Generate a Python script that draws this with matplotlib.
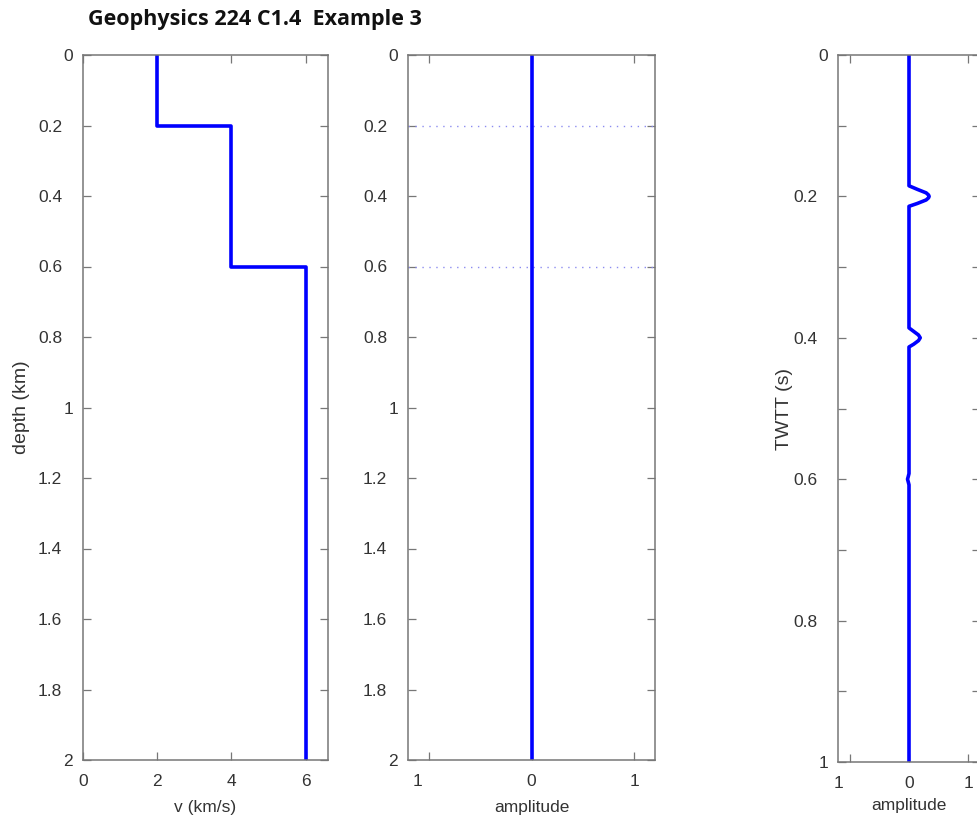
"""Geophysics 224 C1.4 Example 3: velocity model, reflectivity, synthetic trace."""

import matplotlib
matplotlib.use("Agg")
import matplotlib.pyplot as plt  # noqa: E402
import matplotlib.transforms as mtransforms  # noqa: E402
from matplotlib.ticker import FixedLocator, FixedFormatter, MultipleLocator  # noqa: E402

plt.rcParams["font.family"] = ["Liberation Sans", "DejaVu Sans"]

# 속도 모델 (depth km, v km/s)
model_depth = [0.0, 0.2, 0.2, 0.6, 0.6, 2.0]
model_vel = [2.0, 2.0, 4.0, 4.0, 6.0, 6.0]

# 깊이 영역의 진폭 (0선)과 경계면
amp_depth = [0.0, 2.0]
amp_depth_val = [0.0, 0.0]
interfaces = [0.2, 0.6]

# 합성 트레이스 (TWTT s, amplitude) - 그림에서 읽은 값
trace_t = [0.0, 0.185, 0.190, 0.195, 0.198, 0.200, 0.202, 0.205, 0.210, 0.214,
           0.386, 0.391, 0.396, 0.400, 0.404, 0.409, 0.413,
           0.592, 0.597, 0.600, 0.603, 0.608, 1.0]
trace_a = [0.0, 0.0, 0.14, 0.29, 0.33, 0.34, 0.33, 0.29, 0.14, 0.0,
           0.0, 0.08, 0.16, 0.19, 0.16, 0.08, 0.0,
           0.0, -0.015, -0.025, -0.015, 0.0, 0.0]

amp_ticks = [-1, 0, 1]
amp_ticklabels = ["1", "0", "1"]

BLUE = "#0000ff"
GREY = "#777777"
TEXT = "#333333"
FS = 12.5
LFS = 14


def style_axes(ax):
    for s in ax.spines.values():
        s.set_color(GREY)
        s.set_linewidth(1.1)
    ax.tick_params(direction="in", top=True, right=True, length=5.5,
                   width=0.9, color=GREY, labelcolor=TEXT, labelsize=FS)
    ax.tick_params(axis="x", pad=10)
    ax.tick_params(axis="y", pad=15)


def shift(label, dx_px):
    off = mtransforms.ScaledTranslation(dx_px / 100, 0, fig.dpi_scale_trans)
    label.set_transform(label.get_transform() + off)


fig = plt.figure(figsize=(9.78, 8.16), dpi=100)

# 1) 속도 모델
ax1 = fig.add_axes([83 / 978, 56 / 816, 245 / 978, 705 / 816])
ax1.plot(model_vel, model_depth, color=BLUE, linewidth=2.6)
ax1.set_xlim(0, 6.6)
ax1.set_ylim(2, 0)
ax1.xaxis.set_major_locator(FixedLocator([0, 2, 4, 6]))
ax1.yaxis.set_major_locator(MultipleLocator(0.2))
ax1.yaxis.set_major_formatter(plt.FuncFormatter(lambda v, _: f"{v:g}"))
ax1.set_xlabel("v (km/s)", fontsize=FS, color=TEXT, labelpad=8)
ax1.set_ylabel("depth (km)", fontsize=LFS, color=TEXT)
ax1.yaxis.set_label_coords(-0.216, 0.5)
style_axes(ax1)

# 2) 깊이 영역 반사계수
ax2 = fig.add_axes([408 / 978, 56 / 816, 247 / 978, 705 / 816])
for d in interfaces:
    ax2.axhline(d, color="#8c8cf0", linestyle=(0, (1, 4)), linewidth=1.0)
ax2.plot(amp_depth_val, amp_depth, color=BLUE, linewidth=2.6)
ax2.set_xlim(-1.2, 1.2)
ax2.set_ylim(2, 0)
ax2.xaxis.set_major_locator(FixedLocator(amp_ticks))
ax2.xaxis.set_major_formatter(FixedFormatter(amp_ticklabels))
ax2.yaxis.set_major_locator(MultipleLocator(0.2))
ax2.yaxis.set_major_formatter(plt.FuncFormatter(lambda v, _: f"{v:g}"))
ax2.set_xlabel("amplitude", fontsize=FS, color=TEXT, labelpad=8)
style_axes(ax2)

# 3) 시간 영역 합성 트레이스
ax3 = fig.add_axes([838 / 978, 54 / 816, 142 / 978, 707 / 816])
ax3.plot(trace_a, trace_t, color=BLUE, linewidth=2.6)
ax3.set_xlim(-1.2, 1.2)
ax3.set_ylim(1, 0)
ax3.xaxis.set_major_locator(FixedLocator(amp_ticks))
ax3.xaxis.set_major_formatter(FixedFormatter(amp_ticklabels))
ax3.yaxis.set_major_locator(MultipleLocator(0.1))
ax3.yaxis.set_major_formatter(
    plt.FuncFormatter(lambda v, i: f"{v:g}" if round(v * 10) % 2 == 0 else "")
)
ax3.set_xlabel("amplitude", fontsize=FS, color=TEXT, labelpad=5)
ax3.set_ylabel("TWTT (s)", fontsize=LFS, color=TEXT)
ax3.yaxis.set_label_coords(-0.317, 0.5)
style_axes(ax3)

fig.text(88 / 978, 1 - 19 / 816, "Geophysics 224 C1.4  Example 3",
         fontsize=15.5, fontweight="bold", family=["Open Sans", "DejaVu Sans"],
         ha="left", va="center", color="#111111")

# MATLAB 스타일: 정수 라벨은 오른쪽으로, 왼쪽 "1"(= -1)은 왼쪽으로 밀려 있음
fig.canvas.draw()
for ax in (ax1, ax2, ax3):
    for lbl in ax.get_yticklabels():
        if len(lbl.get_text()) == 1:
            shift(lbl, 11)
for ax in (ax2, ax3):
    shift(ax.get_xticklabels()[0], -11)

fig.savefig("out.png", dpi=100)
